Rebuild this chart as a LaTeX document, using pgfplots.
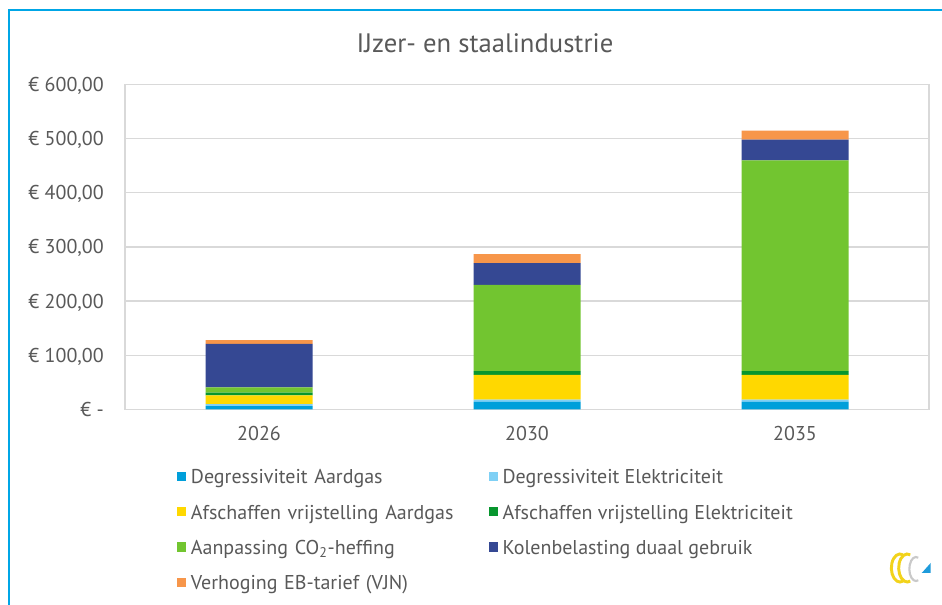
\documentclass[border=0pt]{standalone}
\usepackage{fontspec}
\setmainfont{PT Sans}
\usepackage{pgfplots}
\pgfplotsset{compat=1.18}
\definecolor{cBlue}{HTML}{009FDA}
\definecolor{cLightBlue}{HTML}{7FD0F5}
\definecolor{cYellow}{HTML}{FFD800}
\definecolor{cDarkGreen}{HTML}{07962E}
\definecolor{cGreen}{HTML}{72C530}
\definecolor{cNavy}{HTML}{354893}
\definecolor{cOrange}{HTML}{F7964A}
\definecolor{txtgray}{HTML}{595959}
\definecolor{gridgray}{HTML}{D9D9D9}
\definecolor{frameblue}{HTML}{00A6E6}
\definecolor{logoyellow}{HTML}{F2D31B}
\definecolor{logogray}{HTML}{C9C9C9}
\definecolor{logoblue}{HTML}{1E9BDB}

\pgfplotstableread{
x  da  de  va  ve  co  ko  eb
0  6   4   16  5   10  80  7
1  14  4   46  7   159 40  17
2  14  4   46  7   389 38  17
}\datatable

\begin{document}
\begin{tikzpicture}
\useasboundingbox (0,0) rectangle (706.5pt,453.75pt);
\fill[white] (0,0) rectangle (706.5pt,453.75pt);
\draw[frameblue, line width=1.1pt] (6.75pt,0) -- (6.75pt,446.25pt) -- (706.5pt,446.25pt);
\node[font=\fontsize{20pt}{24pt}\selectfont, text=txtgray, anchor=base] at (363.75pt,414.5pt) {IJzer- en staalindustrie};
\begin{axis}[
  at={(93.75pt,146.625pt)}, anchor=south west,
  scale only axis, width=603pt, height=243.75pt,
  ybar stacked, bar width=80.25pt,
  xmin=-0.5, xmax=2.5, ymin=0, ymax=600,
  xtick={0,1,2}, xticklabels={2026,2030,2035},
  ytick={0,100,200,300,400,500,600},
  yticklabels={{€ -\hspace{10.5pt}},{€ 100,00},{€ 200,00},{€ 300,00},{€ 400,00},{€ 500,00},{€ 600,00}},
  /pgf/number format/assume math mode=true,
  major tick length=0pt,
  axis line style={draw=gridgray, line width=1pt},
  ymajorgrids, grid style={gridgray, line width=1pt},
  tick label style={font=\fontsize{15pt}{18pt}\selectfont, text=txtgray, inner sep=0pt},
  xticklabel style={anchor=base, yshift=-23.4pt},
  yticklabel style={anchor=base east, xshift=-15.75pt, yshift=-5.25pt},
  legend columns=2, legend cell align=left,
  legend style={
    at={(axis description cs:0.065,-0.184)}, anchor=north west,
    draw=none, fill=none, inner sep=0pt, outer sep=0pt,
    font=\fontsize{15pt}{18pt}\selectfont, text=txtgray,
    row sep=11.3pt, column sep=3.5pt,
    nodes={inner sep=0pt, text height=11pt, text depth=4pt},
    /tikz/column 2/.style={text width=220pt},
  },
  legend image code/.code={\fill[#1] (0pt,-1.6pt) rectangle (6.75pt,5.2pt);},
]
\addplot[fill=cBlue, draw=none] table[x=x, y=da] {\datatable};
\addlegendentry{Degressiviteit Aardgas}
\addplot[fill=cLightBlue, draw=none] table[x=x, y=de] {\datatable};
\addlegendentry{Degressiviteit Elektriciteit}
\addplot[fill=cYellow, draw=none] table[x=x, y=va] {\datatable};
\addlegendentry{Afschaffen vrijstelling Aardgas}
\addplot[fill=cDarkGreen, draw=none] table[x=x, y=ve] {\datatable};
\addlegendentry{Afschaffen vrijstelling Elektriciteit}
\addplot[fill=cGreen, draw=none] table[x=x, y=co] {\datatable};
\addlegendentry{Aanpassing CO\textsubscript{2}-heffing}
\addplot[fill=cNavy, draw=none] table[x=x, y=ko] {\datatable};
\addlegendentry{Kolenbelasting duaal gebruik}
\addplot[fill=cOrange, draw=none] table[x=x, y=eb] {\datatable};
\addlegendentry{Verhoging EB-tarief (VJN)}
\end{axis}
% small logo
\draw[logoyellow, line width=2.2pt] ([shift={(70:6.5pt and 10.5pt)}]675pt,27.75pt) arc[start angle=70,end angle=290,x radius=6.5pt,y radius=10.5pt];
\draw[logoyellow, line width=2.2pt] ([shift={(70:6.5pt and 10.5pt)}]680.5pt,27.75pt) arc[start angle=70,end angle=290,x radius=6.5pt,y radius=10.5pt];
\draw[logogray, line width=1.6pt] ([shift={(70:5pt and 9pt)}]687pt,27pt) arc[start angle=70,end angle=290,x radius=5pt,y radius=9pt];
\fill[logoblue] (691.3pt,24pt) -- (698pt,24pt) -- (698pt,31.5pt) -- cycle;
\end{tikzpicture}
\end{document}
